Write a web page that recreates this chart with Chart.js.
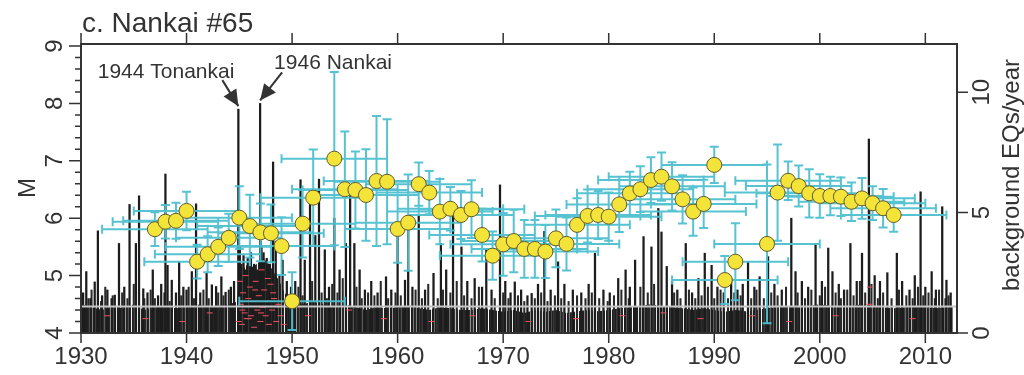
<!DOCTYPE html>
<html>
<head>
<meta charset="utf-8">
<title>c. Nankai #65</title>
<script src="https://cdn.jsdelivr.net/npm/chart.js@4/dist/chart.umd.min.js"></script>
<style>
  html, body { margin: 0; padding: 0; background: #ffffff; }
  #wrap { width: 1024px; height: 375px; }
</style>
</head>
<body>
<div id="wrap"><canvas id="chart" width="1024" height="375"></canvas></div>
<script>
// ---- axis ticks -------------------------------------------------------
const xTickYears = [1930, 1940, 1950, 1960, 1970, 1980, 1990, 2000, 2010];
const mTicks = [4, 5, 6, 7, 8, 9];
const rateTicks = [0, 5, 10];

// ---- the two named great earthquakes --------------------------------
const eventLabels = ['1944 Tonankai', '1946 Nankai'];
const eventYears  = [1944.91, 1946.97];
const eventMags   = [7.9, 8.0];

// ---- larger individual events (year, magnitude) ---------------------
const quakeYears = [
  1930.2, 1930.5, 1930.9, 1931.3, 1931.6, 1932.0, 1932.5, 1932.9, 1933.2, 1933.6,
  1934.1, 1934.6, 1935.2, 1935.5, 1935.9, 1936.3, 1936.8, 1937.3, 1937.6, 1938.0,
  1938.2, 1938.6, 1939.0, 1939.3, 1939.7, 1940.0, 1940.5, 1940.9, 1941.3, 1941.9,
  1942.4, 1942.8, 1943.3, 1943.7, 1944.2, 1944.5, 1944.95, 1945.05, 1945.2, 1945.4,
  1945.6, 1945.8, 1946.1, 1946.4, 1946.7, 1947.0, 1947.1, 1947.3, 1947.6, 1947.9,
  1948.2, 1948.45, 1948.8, 1949.1, 1949.5, 1949.9, 1950.3, 1950.8, 1951.2, 1951.7,
  1952.2, 1952.55, 1953.1, 1953.5, 1954.0, 1954.5, 1955.1, 1955.5, 1955.9, 1956.4,
  1956.9, 1957.5, 1958.1, 1958.9, 1959.4, 1960.0, 1960.7, 1961.0, 1961.4, 1962.0,
  1962.6, 1963.4, 1964.1, 1964.6, 1965.25, 1966.05, 1966.6, 1967.3, 1968.0, 1968.4,
  1968.9, 1969.7, 1970.2, 1970.7, 1971.1, 1971.7, 1972.3, 1972.7, 1973.3, 1973.9,
  1974.5, 1975.2, 1975.8, 1976.6, 1977.4, 1978.1, 1978.7, 1979.5, 1980.1, 1980.9,
  1981.6, 1982.0, 1982.5, 1983.3, 1984.05, 1984.7, 1985.0, 1985.5, 1986.0, 1986.5,
  1987.3, 1987.9, 1988.5, 1989.1, 1989.75, 1990.3, 1990.9, 1991.6, 1992.2, 1992.7,
  1993.2, 1993.8, 1994.3, 1995.1, 1995.7, 1996.4, 1997.3, 1997.7, 1998.3, 1998.9,
  1999.6, 2000.2, 2000.8, 2001.2, 2001.8, 2002.3, 2002.9, 2003.5, 2004.0, 2004.65,
  2004.68, 2005.2, 2005.7, 2006.4, 2007.3, 2007.8, 2008.5, 2009.0, 2009.55, 2010.0,
  2010.6, 2011.0, 2011.6, 2012.0, 2012.4
];
const quakeMags = [
  4.70, 5.07, 4.60, 4.89, 5.78, 4.65, 4.75, 4.60, 4.66, 5.56,
  4.80, 6.24, 5.56, 6.39, 4.77, 4.70, 5.10, 4.65, 4.85, 6.77,
  5.18, 4.92, 4.70, 5.24, 4.80, 4.75, 5.07, 6.25, 4.70, 5.04,
  4.84, 4.81, 4.98, 4.71, 4.80, 4.90, 6.00, 5.50, 5.20, 5.35,
  5.10, 5.30, 5.40, 5.20, 5.10, 5.60, 5.50, 5.40, 5.30, 5.20,
  6.98, 5.60, 5.00, 5.27, 4.90, 4.80, 4.90, 6.67, 5.27, 6.32,
  5.70, 6.68, 5.45, 4.80, 6.00, 5.10, 5.56, 6.38, 5.56, 5.10,
  4.75, 4.90, 4.70, 4.98, 4.75, 5.85, 4.92, 5.85, 4.80, 6.06,
  4.75, 5.04, 5.56, 5.10, 6.06, 5.50, 4.90, 4.95, 4.80, 5.45,
  4.75, 6.58, 4.90, 4.70, 4.89, 4.75, 4.65, 4.69, 4.85, 5.77,
  4.75, 5.24, 4.85, 4.75, 4.70, 4.85, 5.39, 4.75, 4.70, 4.95,
  5.10, 4.80, 5.27, 5.68, 5.50, 6.17, 5.76, 5.16, 4.90, 4.75,
  5.56, 4.70, 4.95, 5.39, 5.18, 4.80, 4.70, 4.95, 4.75, 4.85,
  5.24, 4.80, 4.98, 5.33, 4.85, 4.75, 6.00, 5.07, 4.90, 4.80,
  5.56, 4.90, 5.48, 5.07, 4.85, 4.75, 5.56, 4.90, 5.39, 7.38,
  6.40, 5.00, 4.90, 5.05, 5.39, 4.90, 4.75, 5.00, 6.46, 4.80,
  5.07, 4.75, 6.20, 4.92, 4.70
];

// ---- smaller individual events (year, magnitude) --------------------
const minorYears = [
  1930.7, 1931.0, 1931.9, 1932.3, 1933.0, 1933.9, 1934.4, 1935.0, 1936.0, 1936.6,
  1937.0, 1937.9, 1938.4, 1939.5, 1940.2, 1940.7, 1941.6, 1942.1, 1943.0, 1943.5,
  1944.0, 1950.1, 1950.6, 1951.0, 1951.9, 1952.8, 1953.3, 1953.8, 1954.3, 1954.8,
  1956.1, 1956.6, 1957.2, 1957.8, 1958.4, 1959.1, 1959.8, 1960.3, 1961.7, 1962.3,
  1962.9, 1963.8, 1964.3, 1965.0, 1965.6, 1966.3, 1967.0, 1967.7, 1969.2, 1970.0,
  1970.5, 1971.4, 1972.0, 1973.0, 1973.6, 1974.2, 1974.9, 1975.5, 1976.2, 1977.0,
  1977.8, 1978.4, 1979.1, 1979.9, 1980.5, 1981.2, 1981.9, 1983.0, 1983.7, 1984.3,
  1986.2, 1986.8, 1987.6, 1988.2, 1988.8, 1989.4, 1990.0, 1990.6, 1991.3, 1991.9,
  1992.5, 1993.5, 1994.0, 1994.7, 1995.4, 1996.0, 1996.8, 1997.9, 1998.6, 1999.2,
  2000.0, 2000.5, 2001.5, 2002.0, 2002.6, 2003.2, 2003.8, 2004.3, 2004.9, 2005.5,
  2006.0, 2006.8, 2007.5, 2008.2, 2008.8, 2009.3, 2009.8, 2010.3, 2010.9, 2011.3,
  2011.9, 2012.2
];
const minorMags = [
  4.60, 4.75, 4.55, 4.80, 4.65, 4.70, 4.60, 4.85, 4.60, 4.75,
  4.60, 4.70, 4.55, 4.65, 4.80, 4.60, 4.75, 4.60, 4.70, 4.65,
  4.75, 4.60, 4.80, 4.65, 4.90, 4.70, 4.60, 4.85, 4.70, 4.95,
  4.80, 4.60, 4.70, 4.65, 4.90, 4.60, 4.70, 4.65, 4.75, 4.60,
  4.85, 4.60, 4.75, 4.70, 4.90, 4.65, 4.60, 4.80, 4.60, 4.70,
  4.60, 4.65, 4.55, 4.60, 4.70, 4.55, 4.65, 4.60, 4.55, 4.65,
  4.60, 4.70, 4.60, 4.55, 4.65, 4.75, 4.60, 4.80, 4.70, 4.85,
  4.70, 4.60, 4.75, 4.60, 4.65, 4.80, 4.60, 4.75, 4.60, 4.70,
  4.65, 4.60, 4.75, 4.60, 4.70, 4.65, 4.80, 4.70, 4.60, 4.75,
  4.65, 4.80, 4.70, 4.60, 4.75, 4.65, 4.90, 4.70, 4.85, 4.60,
  4.70, 4.60, 4.75, 4.65, 4.60, 4.80, 4.65, 4.70, 4.60, 4.75,
  4.60, 4.65
];

// ---- dense small-event envelope (year, magnitude) -------------------
const baseYears = [
  1930, 1931, 1932, 1933, 1934, 1935, 1936, 1937, 1938, 1939, 1940, 1941, 1942, 1943,
  1944, 1944.8, 1944.95, 1945.3, 1945.8, 1946.3, 1946.95, 1947.3, 1947.8, 1948.3,
  1948.8, 1949.3, 1949.9, 1950.5, 1951, 1952, 1953, 1954, 1955, 1956, 1957, 1958,
  1959, 1960, 1961, 1962, 1963, 1964, 1965, 1966, 1967, 1968, 1969, 1970, 1971,
  1972, 1973, 1974, 1975, 1976, 1977, 1978, 1979, 1980, 1981, 1982, 1983, 1984,
  1985, 1986, 1987, 1988, 1989, 1990, 1991, 1992, 1993, 1994, 1995, 1996, 1997,
  1998, 1999, 2000, 2001, 2002, 2003, 2004, 2005, 2006, 2007, 2008, 2009, 2010,
  2011, 2012, 2012.6
];
const baseMags = [
  4.50, 4.45, 4.40, 4.47, 4.43, 4.50, 4.40, 4.45, 4.47, 4.43, 4.45, 4.50, 4.45, 4.47,
  4.50, 4.55, 5.05, 5.10, 5.20, 5.15, 5.25, 5.30, 5.20, 5.05,
  4.90, 4.70, 4.55, 4.50, 4.50, 4.55, 4.50, 4.45, 4.50, 4.45, 4.40, 4.45,
  4.43, 4.45, 4.47, 4.43, 4.40, 4.45, 4.43, 4.40, 4.40, 4.43, 4.40, 4.37, 4.40,
  4.35, 4.40, 4.37, 4.40, 4.35, 4.38, 4.40, 4.38, 4.40, 4.43, 4.45, 4.47, 4.50,
  4.47, 4.45, 4.43, 4.40, 4.43, 4.40, 4.37, 4.40, 4.38, 4.40, 4.43, 4.45, 4.47,
  4.45, 4.47, 4.50, 4.47, 4.45, 4.47, 4.50, 4.47, 4.45, 4.43, 4.45, 4.47, 4.45,
  4.43, 4.45, 4.45
];

// ---- events flagged as clustered (year, magnitude) ------------------
const clusterYears = [
  1944.95, 1945.05, 1945.15, 1945.25, 1945.35, 1945.5, 1945.6, 1945.7, 1945.85, 1946.0,
  1946.1, 1946.25, 1946.4, 1946.55, 1946.7, 1946.85, 1947.0, 1947.1, 1947.2, 1947.35,
  1947.5, 1947.65, 1947.8, 1947.95, 1948.1, 1948.3, 1948.5, 1948.7, 1948.9, 1949.2,
  1945.3, 1945.9, 1946.5, 1947.05, 1947.7, 1948.2,
  1932.5, 1936.1, 1939.6, 1942.2, 1951.5, 1955.4, 1958.7, 1963.2, 1967.1, 1972.4,
  1976.9, 1981.3, 1985.2, 1988.7, 1993.6, 1997.1, 2001.5, 2004.7, 2004.75, 2008.8
];
const clusterMags = [
  4.20, 4.90, 4.50, 4.15, 4.70, 4.35, 5.00, 4.25, 4.60, 4.80,
  4.30, 4.55, 4.10, 4.90, 4.40, 4.65, 4.20, 5.10, 4.45, 4.75,
  4.30, 4.55, 4.15, 4.85, 4.40, 4.60, 4.20, 4.50, 4.30, 4.15,
  4.40, 4.25, 4.75, 4.35, 4.95, 4.70,
  4.30, 4.25, 4.20, 4.35, 4.30, 4.40, 4.25, 4.20, 4.30, 4.20,
  4.25, 4.30, 4.35, 4.25, 4.30, 4.20, 4.30, 4.50, 4.80, 4.25
];

// ---- magnitude of the horizontal reference line ---------------------
const magCutoff = 4.46;

// ---- background rate estimates (EQs/year) ---------------------------
const rateYears = [
  1937, 1938, 1939, 1940, 1941, 1942, 1943, 1944, 1945, 1946, 1947, 1948, 1949, 1950,
  1951, 1952, 1954, 1955, 1956, 1957, 1958, 1959, 1960, 1961, 1962, 1963, 1964, 1965,
  1966, 1967, 1968, 1969, 1970, 1971, 1972, 1973, 1974, 1975, 1976, 1977, 1978, 1979,
  1980, 1981, 1982, 1983, 1984, 1985, 1986, 1987, 1988, 1989, 1990, 1991, 1992, 1995,
  1996, 1997, 1998, 1999, 2000, 2001, 2002, 2003, 2004, 2005, 2006, 2007
];
const rateValues = [
  4.31, 4.62, 4.66, 5.07, 2.96, 3.27, 3.58, 3.95, 4.79, 4.44, 4.18, 4.14, 3.61, 1.32,
  4.54, 5.62, 7.24, 5.97, 5.94, 5.73, 6.31, 6.28, 4.32, 4.58, 6.18, 5.83, 5.04, 5.16,
  4.90, 5.14, 4.07, 3.21, 3.68, 3.82, 3.49, 3.49, 3.38, 3.93, 3.70, 4.49, 4.86, 4.90,
  4.83, 5.34, 5.80, 5.97, 6.35, 6.49, 6.09, 5.55, 5.04, 5.36, 6.98, 2.20, 2.96, 3.70,
  5.83, 6.32, 6.10, 5.80, 5.69, 5.69, 5.66, 5.45, 5.59, 5.39, 5.18, 4.90
];
const rateErr = [
  0.70, 0.70, 0.75, 0.80, 0.70, 0.75, 0.80, 1.00, 1.30, 1.30, 1.20, 1.20, 1.20, 1.20,
  1.40, 2.00, 3.60, 2.40, 1.60, 1.90, 2.70, 2.60, 1.40, 2.00, 0.90, 0.90, 1.35, 0.90,
  1.00, 1.20, 1.10, 1.00, 1.30, 1.30, 1.20, 1.20, 1.10, 1.20, 1.10, 1.10, 1.10, 1.00,
  1.00, 1.15, 0.90, 0.95, 0.95, 1.00, 1.00, 1.00, 1.00, 1.00, 0.75, 1.00, 1.60, 3.30,
  2.00, 0.80, 0.85, 1.00, 0.90, 0.80, 0.80, 0.80, 0.85, 0.70, 0.80, 0.70
];
const windowHalfYears = 5;   // each estimate covers a 10-year window

// ---- styling ----------------------------------------------------------
const INK = '#333333';
const CYAN = 'rgba(78,192,208,0.95)';
const FONT = '"Liberation Sans", Arial, Helvetica, sans-serif';

// comb-like fill for the dense run of small events
function combPattern() {
  const cols = ['#1e1e1e', '#2a2a2a', '#ffffff', '#1e1e1e', '#3a3a3a', '#f0f0f0', '#222222', '#1e1e1e', '#e6e6e6'];
  const c = document.createElement('canvas');
  c.width = cols.length; c.height = 1;
  const g = c.getContext('2d');
  cols.forEach((col, i) => { g.fillStyle = col; g.fillRect(i, 0, 1, 1); });
  return g.createPattern(c, 'repeat');
}

// error bars for the rate estimates, drawn just beneath the circles
const errorBarPlugin = {
  id: 'rateErrorBars',
  beforeDatasetDraw(chart, args) {
    if (chart.data.datasets[args.index].id !== 'rate') return;
    const { ctx, scales } = chart;
    const xs = scales.x, ys = scales.y2;
    const cap = 4.5;
    ctx.save();
    ctx.strokeStyle = CYAN;
    ctx.lineWidth = 2;
    ctx.beginPath();
    rateYears.forEach((yr, i) => {
      const v = rateValues[i];
      const x0 = xs.getPixelForValue(yr - windowHalfYears);
      const x1 = xs.getPixelForValue(yr + windowHalfYears);
      const xc = xs.getPixelForValue(yr);
      const yc = ys.getPixelForValue(v);
      const yHi = ys.getPixelForValue(v + rateErr[i]);
      const yLo = ys.getPixelForValue(Math.max(0, v - rateErr[i]));
      ctx.moveTo(x0, yc); ctx.lineTo(x1, yc);
      ctx.moveTo(x0, yc - cap); ctx.lineTo(x0, yc + cap);
      ctx.moveTo(x1, yc - cap); ctx.lineTo(x1, yc + cap);
      ctx.moveTo(xc, yHi); ctx.lineTo(xc, yLo);
      ctx.moveTo(xc - cap, yHi); ctx.lineTo(xc + cap, yHi);
      ctx.moveTo(xc - cap, yLo); ctx.lineTo(xc + cap, yLo);
    });
    ctx.stroke();
    ctx.restore();
  }
};

// frame, outward ticks, rotated labels, titles and event call-outs
const framePlugin = {
  id: 'frameAndAxes',
  afterDraw(chart) {
    const { ctx, chartArea: a, scales } = chart;
    const xs = scales.x, ym = scales.y, yr = scales.y2;
    ctx.save();
    ctx.strokeStyle = INK;
    ctx.fillStyle = INK;

    // frame
    ctx.lineWidth = 2;
    ctx.strokeRect(a.left, a.top, a.right - a.left, a.bottom - a.top);

    // decade ticks, bottom and top
    ctx.lineWidth = 1.5;
    ctx.beginPath();
    xTickYears.forEach(v => {
      const px = xs.getPixelForValue(v);
      ctx.moveTo(px, a.bottom); ctx.lineTo(px, a.bottom + 10);
      ctx.moveTo(px, a.top); ctx.lineTo(px, a.top - 11);
    });
    // magnitude ticks: major every 1, minor every 0.2
    mTicks.forEach(v => {
      const py = ym.getPixelForValue(v);
      ctx.moveTo(a.left, py); ctx.lineTo(a.left - 12, py);
    });
    for (let m = mTicks[0]; m < mTicks[mTicks.length - 1]; m += 1) {
      [0.2, 0.4, 0.6, 0.8].forEach(f => {
        const py = ym.getPixelForValue(m + f);
        ctx.moveTo(a.left, py); ctx.lineTo(a.left - 6, py);
      });
    }
    // rate ticks
    rateTicks.forEach(v => {
      const py = yr.getPixelForValue(v);
      ctx.moveTo(a.right, py); ctx.lineTo(a.right + 11, py);
    });
    ctx.stroke();

    // year labels
    ctx.font = '24px ' + FONT;
    ctx.textAlign = 'center';
    ctx.textBaseline = 'middle';
    xTickYears.forEach(v => ctx.fillText(String(v), xs.getPixelForValue(v), a.bottom + 24));

    // rotated labels helper
    const vtext = (txt, x, y) => {
      ctx.save();
      ctx.translate(x, y);
      ctx.rotate(-Math.PI / 2);
      ctx.fillText(txt, 0, 0);
      ctx.restore();
    };
    mTicks.forEach(v => vtext(String(v), a.left - 26, ym.getPixelForValue(v)));
    rateTicks.forEach(v => vtext(String(v), a.right + 25, yr.getPixelForValue(v)));
    vtext('M', 28, 188);
    vtext('background EQs/year', a.right + 55, 175);

    // panel title
    ctx.font = '28px ' + FONT;
    ctx.textAlign = 'left';
    ctx.textBaseline = 'alphabetic';
    ctx.fillText('c. Nankai #65', 82, 32);

    // call-outs for the two great earthquakes
    ctx.font = '21px ' + FONT;
    eventLabels.forEach((label, i) => {
      const tx = xs.getPixelForValue(eventYears[i]);
      const ty = ym.getPixelForValue(eventMags[i]) - 3;
      const left = i === 0;
      const sx = left ? tx - 16 : tx + 22;
      const sy = left ? ty - 26 : ty - 28;
      ctx.lineWidth = 2;
      ctx.beginPath();
      ctx.moveTo(sx, sy);
      ctx.lineTo(tx, ty);
      ctx.stroke();
      const ang = Math.atan2(ty - sy, tx - sx);
      const len = 16, hw = 7.5;
      const bx = tx - len * Math.cos(ang), by = ty - len * Math.sin(ang);
      ctx.beginPath();
      ctx.moveTo(tx, ty);
      ctx.lineTo(bx + hw * Math.sin(ang), by - hw * Math.cos(ang));
      ctx.lineTo(bx - hw * Math.sin(ang), by + hw * Math.cos(ang));
      ctx.closePath();
      ctx.fill();
      if (left) {
        ctx.textAlign = 'right';
        ctx.fillText(label, tx - 4, ty - 28);
      } else {
        ctx.textAlign = 'left';
        ctx.fillText(label, tx + 14, ty - 31);
      }
    });
    ctx.restore();
  }
};

const allYears = quakeYears.concat(eventYears);
const allMags = quakeMags.concat(eventMags);

new Chart(document.getElementById('chart'), {
  type: 'bar',
  data: {
    datasets: [
      {
        type: 'line',
        id: 'base',
        data: baseYears.map((x, i) => ({ x, y: baseMags[i] })),
        yAxisID: 'y',
        fill: { value: 4 },
        backgroundColor: combPattern(),
        borderWidth: 0,
        pointRadius: 0,
        tension: 0,
        order: 7
      },
      {
        type: 'bar',
        id: 'minor',
        data: minorYears.map((x, i) => ({ x, y: [4, minorMags[i]] })),
        yAxisID: 'y',
        backgroundColor: '#2a2a2a',
        borderWidth: 0,
        barThickness: 1.4,
        grouped: false,
        order: 6
      },
      {
        type: 'bar',
        id: 'events',
        data: allYears.map((x, i) => ({ x, y: [4, allMags[i]] })),
        yAxisID: 'y',
        backgroundColor: '#1c1c1c',
        borderWidth: 0,
        barThickness: 1.6,
        grouped: false,
        order: 5
      },
      {
        type: 'scatter',
        id: 'cluster',
        data: clusterYears.map((x, i) => ({ x, y: clusterMags[i] })),
        yAxisID: 'y',
        pointStyle: 'line',
        pointRadius: 3,
        borderColor: '#f0505e',
        borderWidth: 1,
        order: 4
      },
      {
        type: 'line',
        id: 'cutoff',
        data: [{ x: 1930, y: magCutoff }, { x: 2013, y: magCutoff }],
        yAxisID: 'y',
        borderColor: '#c6c6c6',
        borderWidth: 2,
        pointRadius: 0,
        fill: false,
        order: 3
      },
      {
        type: 'scatter',
        id: 'rate',
        data: rateYears.map((x, i) => ({ x, y: rateValues[i] })),
        yAxisID: 'y2',
        pointStyle: 'circle',
        pointRadius: 7.5,
        backgroundColor: '#f4e43a',
        borderColor: '#5d5b2c',
        borderWidth: 1,
        order: 1
      }
    ]
  },
  options: {
    responsive: false,
    maintainAspectRatio: false,
    devicePixelRatio: 1,
    animation: false,
    events: [],
    layout: { padding: { left: 81, right: 67, top: 44, bottom: 42 } },
    plugins: { legend: { display: false }, tooltip: { enabled: false }, title: { display: false } },
    scales: {
      x: { type: 'linear', min: 1930, max: 2013, offset: false, display: false },
      y: { type: 'linear', min: 4, max: 9.035, display: false },
      y2: { type: 'linear', position: 'right', min: 0, max: 12, display: false }
    }
  },
  plugins: [errorBarPlugin, framePlugin]
});
</script>
</body>
</html>
